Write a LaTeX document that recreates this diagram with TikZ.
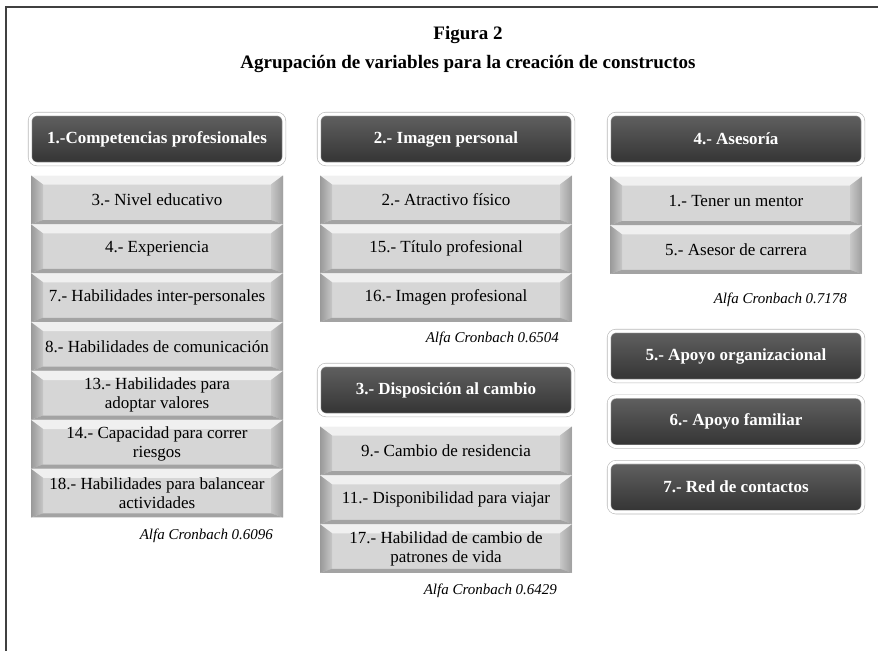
\documentclass[tikz,border=0pt]{standalone}
\usepackage{fontspec}
\setmainfont{Liberation Serif}
\usetikzlibrary{positioning}

\tikzset{
  titletext/.style={font=\bfseries\fontsize{19}{22}\selectfont, inner sep=0pt},
  header/.style={rounded corners=7pt, minimum width=254pt, minimum height=50pt,
    top color=black!62, bottom color=black!80, draw=black!28, double=white,
    double distance=3pt, line width=0.6pt, text=white,
    font=\bfseries\fontsize{17}{19}\selectfont},
  varbox/.style={minimum width=252pt, minimum height=48.5pt, inner sep=1pt,
    align=center, fill=black!16, font=\fontsize{17}{19}\selectfont,
    path picture={
      \path (path picture bounding box.north west) coordinate (bnw)
            (path picture bounding box.north east) coordinate (bne)
            (path picture bounding box.south west) coordinate (bsw)
            (path picture bounding box.south east) coordinate (bse);
      \fill[black!6] (bnw) -- (bne) -- ([xshift=-12pt,yshift=-9pt]bne)
        -- ([xshift=12pt,yshift=-9pt]bnw) -- cycle;
      \fill[left color=black!40, right color=black!22] (bnw)
        -- ([xshift=12pt,yshift=-9pt]bnw) -- ([xshift=12pt,yshift=4pt]bsw) -- (bsw) -- cycle;
      \fill[left color=black!22, right color=black!38] (bne)
        -- ([xshift=-12pt,yshift=-9pt]bne) -- ([xshift=-12pt,yshift=4pt]bse) -- (bse) -- cycle;
      \fill[black!36] (bsw) -- ([xshift=12pt,yshift=4pt]bsw)
        -- ([xshift=-12pt,yshift=4pt]bse) -- (bse) -- cycle;
    }},
  alfa/.style={font=\itshape\fontsize{15}{17}\selectfont, inner sep=0pt}
}

\begin{document}
\begin{tikzpicture}[x=1pt,y=-1pt]
  \useasboundingbox (0,0) rectangle (879,651);
  \draw[black!75, line width=1.2pt] (6,651) -- (6,7) -- (878,7);

  \node[titletext] (fig) at (468,35) {Figura 2};
  \node[titletext] (tit) at (468,64) {Agrupación de variables para la creación de constructos};

  % competencias
  \node[header] (cp) at (157,139) {1.-Competencias profesionales};
  \node[varbox, below=11pt of cp] (cp1) {3.- Nivel educativo};
  \node[varbox, below=0pt of cp1] (cp2) {4.- Experiencia};
  \node[varbox, below=0pt of cp2] (cp3) {7.- Habilidades inter-personales};
  \node[varbox, below=0pt of cp3] (cp4) {8.- Habilidades de comunicación};
  \node[varbox, below=0pt of cp4] (cp5) {13.- Habilidades para\\adoptar valores};
  \node[varbox, below=0pt of cp5] (cp6) {14.- Capacidad para correr\\riesgos};
  \node[varbox, below=0pt of cp6] (cp7) {18.- Habilidades para balancear\\actividades};
  \node[alfa, below left=11pt and 10pt of cp7.south east] (acp) {Alfa Cronbach 0.6096};

  % imagen
  \node[header] (ip) at (446,139) {2.- Imagen personal};
  \node[varbox, below=11pt of ip] (ip1) {2.- Atractivo físico};
  \node[varbox, below=0pt of ip1] (ip2) {15.- Título profesional};
  \node[varbox, below=0pt of ip2] (ip3) {16.- Imagen profesional};
  \node[alfa, below left=10pt and 13pt of ip3.south east] (aip) {Alfa Cronbach 0.6504};

  % cambio
  \node[header] (dc) at (446,390) {3.- Disposición al cambio};
  \node[varbox, below=11pt of dc] (dc1) {9.- Cambio de residencia};
  \node[varbox, below=0pt of dc1] (dc2) {11.- Disponibilidad para viajar};
  \node[varbox, below=0pt of dc2] (dc3) {17.- Habilidad de cambio de\\patrones de vida};
  \node[alfa, below left=11pt and 15pt of dc3.south east] (adc) {Alfa Cronbach 0.6429};

  % asesoria
  \node[header] (as) at (736,139) {4.- Asesoría};
  \node[varbox, below=12pt of as] (as1) {1.- Tener un mentor};
  \node[varbox, below=0pt of as1] (as2) {5.- Asesor de carrera};
  \node[alfa, below left=19pt and 15pt of as2.south east] (aas) {Alfa Cronbach 0.7178};

  \node[header] (ao) at (736,356) {5.- Apoyo organizacional};
  \node[header, below=15pt of ao] (af) {6.- Apoyo familiar};
  \node[header, below=15pt of af] (rc) {7.- Red de contactos};
\end{tikzpicture}
\end{document}
